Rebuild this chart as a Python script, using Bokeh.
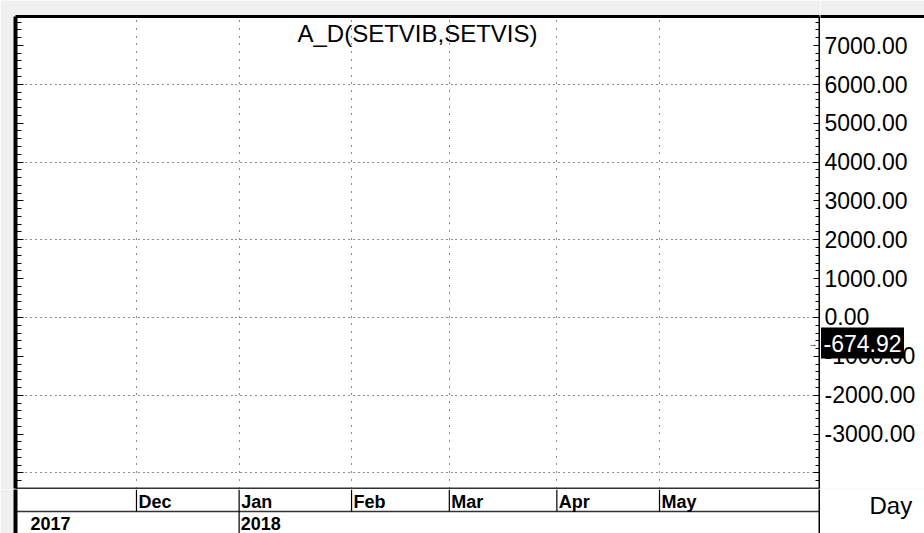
import numpy as np
from bokeh.plotting import figure
from bokeh.layouts import column, row
from bokeh.models import (Range1d, LinearAxis, SingleIntervalTicker, FixedTicker, Grid)
from bokeh.core.properties import value
from bokeh.embed import file_html
from bokeh.resources import INLINE

# ---------------- data ----------------
title_text = "A_D(SETVIB,SETVIS)"
last_value = -674.92
last_label = "-674.92"
y_label_values = [7000, 6000, 5000, 4000, 3000, 2000, 1000, 0, -1000, -2000, -3000]
y_tick_labels = ["%.2f" % v for v in y_label_values]
month_labels = ["Dec", "Jan", "Feb", "Mar", "Apr", "May"]
month_starts = ["2017-12-01", "2018-01-01", "2018-02-01", "2018-03-01", "2018-04-01", "2018-05-01"]
year_labels = ["2017", "2018"]
year_starts = ["2017-11-01", "2018-01-01"]
period_label = "Day"
y_major_step = 1000
y_minor_step = 200
y_grid_step = 2000

# weekday (bar) index, origin = first month shown
origin = month_starts[0]
month_idx = [int(np.busday_count(origin, d)) for d in month_starts]
year_idx = [int(np.busday_count(origin, d)) for d in year_starts]

# ---------------- layout constants ----------------
FONT = "Liberation Sans"
CHROME = "#f0f0f0"
W_PLOT, W_SIDE = 820, 104
H_PLOT, H_BAND = 489, 44
B_LEFT, B_TOP = 15, 16

xr = Range1d(-24.75, 139.73)
yr = Range1d(-4399, 7744)
frame_h = H_PLOT - B_TOP - 1
px_y = (yr.end - yr.start) / frame_h          # data units per pixel
yr_side = Range1d(yr.start - px_y, yr.end)
title_y = yr.end - 16.5 * px_y                 # title centre ~16 px under the frame top

y_minor = list(range(-4400, 7745, y_minor_step))
y_major = list(range(-4000, 7745, y_major_step))


def line_axis(color, width, minor=(), tick_in=0):
    return LinearAxis(ticker=FixedTicker(ticks=[], minor_ticks=list(minor)),
                      axis_line_color=color, axis_line_width=width,
                      major_tick_in=0, major_tick_out=0,
                      minor_tick_in=tick_in, minor_tick_out=0,
                      minor_tick_line_color="black", minor_tick_line_width=1,
                      major_label_standoff=0)


def base_fig(w, h, x_range, y_range, **borders):
    return figure(width=w, height=h, x_range=x_range, y_range=y_range,
                  x_axis_type=None, y_axis_type=None,
                  toolbar_location=None, output_backend="svg",
                  outline_line_color=None, background_fill_color="white",
                  **borders)


# ---------------- main plot ----------------
p = base_fig(W_PLOT, H_PLOT, xr, yr, min_border_left=B_LEFT, min_border_right=1,
             min_border_top=B_TOP, min_border_bottom=1, border_fill_color=CHROME)

p.add_layout(Grid(dimension=1, ticker=SingleIntervalTicker(interval=y_grid_step),
                  grid_line_color="#1a1a1a", grid_line_width=1,
                  grid_line_dash="1 4 1 4 1 4 1 4 1 4 1 4 1 4 1 4 1 3"))
p.add_layout(Grid(dimension=0, ticker=FixedTicker(ticks=month_idx),
                  grid_line_color="#1a1a1a", grid_line_width=1,
                  grid_line_dash="1 7 1 7 1 7 1 6 1 7 1 7 1 7 1 6 1 7"))

p.add_layout(line_axis("black", 4, y_minor, 6), "left")
p.add_layout(line_axis(None, 0, y_major, 8), "left")
p.add_layout(line_axis("black", 2, y_minor, 4), "right")
p.add_layout(line_axis(None, 0, y_major, 6), "right")
p.add_layout(line_axis("black", 3), "above")
p.add_layout(line_axis("#333333", 2), "below")

p.text(x=[(xr.start + xr.end) / 2], y=[title_y], text=[title_text],
       text_align="center", text_baseline="middle",
       text_font=value(FONT), text_font_size="24px", text_color="black")

p.text(x=[xr.end], y=[last_value], text=["→"], x_offset=-11,
       text_align="left", text_baseline="middle",
       text_font=value(FONT), text_font_size="9px", text_color="#222222")

# ---------------- right value scale ----------------
sx = Range1d(0, W_SIDE)
side = base_fig(W_SIDE, H_PLOT, sx, yr_side, min_border_left=0, min_border_right=0,
                min_border_top=B_TOP, min_border_bottom=0, border_fill_color=CHROME)
side.add_layout(line_axis("black", 3), "above")
side.text(x=[sx.start] * len(y_label_values), y=y_label_values, text=y_tick_labels,
          x_offset=4, text_align="left", text_baseline="middle",
          text_font=value(FONT), text_font_size="23px", text_color="black")
side.rect(x=[sx.start + 42], y=[last_value], width=83, height=31,
          width_units="screen", height_units="screen",
          fill_color="black", line_color=None)
side.text(x=[sx.start], y=[last_value], text=[last_label], x_offset=3,
          text_align="left", text_baseline="middle",
          text_font=value(FONT), text_font_size="23px", text_color="white")

# ---------------- date band ----------------
by = Range1d(0, H_BAND)
band = base_fig(W_PLOT, H_BAND, xr, by, min_border_left=B_LEFT, min_border_right=1,
                min_border_top=0, min_border_bottom=0, border_fill_color=CHROME)
band.add_layout(line_axis("black", 4), "left")
band.add_layout(line_axis("black", 2), "right")

band_mid = 22
n_m = len(month_idx)
band.hspan(y=[band_mid], line_color="#333333", line_width=1.6)
band.segment(x0=month_idx, x1=month_idx, y0=[band_mid] * n_m, y1=[H_BAND] * n_m,
             line_color="black", line_width=1.2)
band.segment(x0=year_idx[1:], x1=year_idx[1:], y0=[0] * (len(year_idx) - 1),
             y1=[band_mid] * (len(year_idx) - 1), line_color="black", line_width=1.2)
band.text(x=month_idx, y=[31.3] * n_m, text=month_labels, x_offset=2,
          text_align="left", text_baseline="middle",
          text_font=value(FONT), text_font_style="bold", text_font_size="18px",
          text_color="black")
band.text(x=year_idx, y=[10.5] * len(year_idx), text=year_labels, x_offset=1.5,
          text_align="left", text_baseline="middle",
          text_font=value(FONT), text_font_style="bold", text_font_size="18px",
          text_color="black")

corner = base_fig(W_SIDE, H_BAND, Range1d(0, W_SIDE), Range1d(0, H_BAND),
                  min_border_left=0, min_border_right=0,
                  min_border_top=0, min_border_bottom=0, border_fill_color="white")
corner.text(x=[0], y=[28.3], text=[period_label], x_offset=49,
            text_align="left", text_baseline="middle",
            text_font=value(FONT), text_font_size="24px", text_color="black")

layout = column(row(p, side, spacing=0), row(band, corner, spacing=0), spacing=0)
open("out.html", "w").write(file_html(layout, INLINE))
